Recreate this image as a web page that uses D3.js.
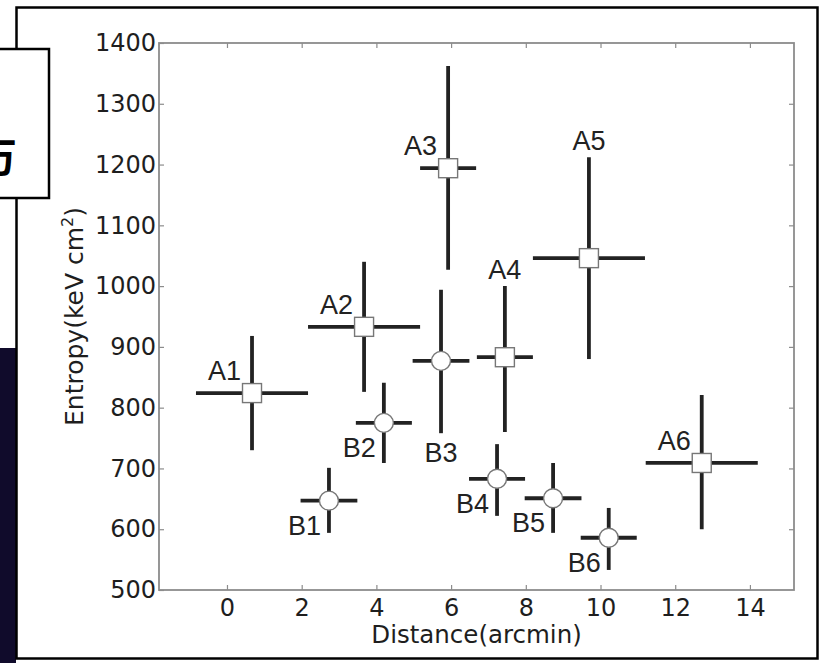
<!DOCTYPE html>
<html>
<head>
<meta charset="utf-8">
<script src="https://cdn.jsdelivr.net/npm/d3@7"></script>
<style>
  body { margin: 0; background: #fff; }
  svg { display: block; }
</style>
</head>
<body>
<div id="chart"></div>
<script>
// values
var names  = ["A1", "A2", "A3", "A4", "A5", "A6", "B1", "B2", "B3", "B4", "B5", "B6"];
var dist   = [0.67, 3.67, 5.92, 7.44, 9.69, 12.71, 2.73, 4.2, 5.73, 7.23, 8.73, 10.22];
var distErr = [1.5, 1.5, 0.75, 0.75, 1.5, 1.5, 0.76, 0.75, 0.76, 0.75, 0.76, 0.75];
var entropy   = [824, 933, 1194, 883, 1046, 709, 647, 775, 877, 683, 651, 586];
var entropyLo = [730, 826, 1027, 760, 880, 600, 594, 709, 758, 622, 594, 533];
var entropyHi = [918, 1040, 1362, 1000, 1212, 821, 701, 841, 994, 740, 709, 635];
var xTicks = [0, 2, 4, 6, 8, 10, 12, 14];
var yTicks = [500, 600, 700, 800, 900, 1000, 1100, 1200, 1300, 1400];

// where each label sits relative to its point
var labelPlace = ["nw", "nw", "nw", "top", "top", "nw", "sw", "sw", "bottom", "sw", "sw", "sw"];

var W = 820, H = 663;
var plot = { left: 159, top: 43, right: 794, bottom: 590 };

var svg = d3.select("#chart").append("svg")
    .attr("width", W)
    .attr("height", H);

// page furniture around the figure
svg.append("rect")
    .attr("x", 0).attr("y", 348)
    .attr("width", 16).attr("height", H - 348)
    .style("fill", "#100b2b");

svg.append("rect")
    .attr("x", 16.5).attr("y", 7.5)
    .attr("width", 801).attr("height", 651)
    .style("fill", "#fff")
    .style("stroke", "#000")
    .style("stroke-width", 2.5);

svg.append("rect")
    .attr("x", -5).attr("y", 49)
    .attr("width", 54).attr("height", 149)
    .style("fill", "#fff")
    .style("stroke", "#000")
    .style("stroke-width", 2.5);

svg.append("text")
    .attr("x", 17).attr("y", 172)
    .style("text-anchor", "end")
    .style("font-family", "'Noto Sans CJK SC'")
    .style("font-weight", "bold")
    .style("font-size", "40px")
    .style("fill", "#000")
    .text("万");

var x = d3.scaleLinear().domain([-1.82, 15.18]).range([plot.left, plot.right]);
var y = d3.scaleLinear().domain([500, 1400]).range([plot.bottom, plot.top]);

var tickFont = "'DejaVu Sans'";

function styleAxis(g) {
    g.select(".domain").remove();
    g.selectAll(".tick line").style("stroke", "#8c8c8c").style("stroke-width", 1.2);
    g.selectAll(".tick text")
        .style("font-family", tickFont)
        .style("font-size", "24px")
        .style("fill", "#1e1e1e");
}

svg.append("g")
    .attr("transform", "translate(0," + plot.bottom + ")")
    .call(d3.axisBottom(x).tickValues(xTicks).tickFormat(d3.format("d"))
        .tickSizeInner(-5).tickSizeOuter(0).tickPadding(9))
    .call(styleAxis);

svg.append("g")
    .attr("transform", "translate(0," + plot.top + ")")
    .call(d3.axisTop(x).tickValues(xTicks).tickSizeInner(-5).tickSizeOuter(0).tickFormat(""))
    .call(styleAxis);

svg.append("g")
    .attr("transform", "translate(" + plot.left + ",0)")
    .call(d3.axisLeft(y).tickValues(yTicks).tickFormat(d3.format("d"))
        .tickSizeInner(-5).tickSizeOuter(0).tickPadding(3))
    .call(styleAxis);

svg.append("g")
    .attr("transform", "translate(" + plot.right + ",0)")
    .call(d3.axisRight(y).tickValues(yTicks.slice(1, -1)).tickSizeInner(-5).tickSizeOuter(0).tickFormat(""))
    .call(styleAxis);

svg.append("rect")
    .attr("x", plot.left).attr("y", plot.top)
    .attr("width", plot.right - plot.left)
    .attr("height", plot.bottom - plot.top)
    .style("fill", "none")
    .style("stroke", "#8c8c8c")
    .style("stroke-width", 1.8);

// axis titles
svg.append("text")
    .attr("x", (plot.left + plot.right) / 2)
    .attr("y", 643)
    .style("text-anchor", "middle")
    .style("font-family", tickFont)
    .style("font-size", "24.5px")
    .style("fill", "#1e1e1e")
    .text("Distance(arcmin)");

var yTitle = svg.append("text")
    .attr("transform", "translate(83," + ((plot.top + plot.bottom) / 2) + ")rotate(-90)")
    .style("text-anchor", "middle")
    .style("font-family", tickFont)
    .style("font-size", "25px")
    .style("fill", "#1e1e1e");
yTitle.append("tspan").text("Entropy(keV cm");
yTitle.append("tspan").attr("dy", -10).style("font-size", "16px").text("2");
yTitle.append("tspan").attr("dy", 10).text(")");

// error bars and markers
var pts = names.map(function(n, i) {
    return { name: n, x: dist[i], xe: distErr[i], y: entropy[i], lo: entropyLo[i], hi: entropyHi[i],
             kind: n.charAt(0), place: labelPlace[i] };
});

var g = svg.append("g");

pts.forEach(function(d) {
    g.append("line")
        .attr("x1", x(d.x - d.xe)).attr("x2", x(d.x + d.xe))
        .attr("y1", y(d.y)).attr("y2", y(d.y))
        .style("stroke", "#222").style("stroke-width", 3.8);
    g.append("line")
        .attr("x1", x(d.x)).attr("x2", x(d.x))
        .attr("y1", y(d.lo)).attr("y2", y(d.hi))
        .style("stroke", "#222").style("stroke-width", 3.8);
});

pts.forEach(function(d) {
    if (d.kind === "A") {
        g.append("rect")
            .attr("x", x(d.x) - 9.5).attr("y", y(d.y) - 9.5)
            .attr("width", 19).attr("height", 19)
            .style("fill", "#fff").style("stroke", "#777").style("stroke-width", 1.4);
    } else {
        g.append("circle")
            .attr("cx", x(d.x)).attr("cy", y(d.y)).attr("r", 9.5)
            .style("fill", "#fff").style("stroke", "#777").style("stroke-width", 1.4);
    }
});

g.selectAll(".ptLabel")
    .data(pts)
    .enter()
    .append("text")
    .attr("class", "ptLabel")
    .attr("x", function(d) {
        if (d.place === "top" || d.place === "bottom") return x(d.x);
        if (d.place === "nw") return x(d.x) - 11;
        return x(d.x) - 8;
    })
    .attr("y", function(d) {
        if (d.place === "top") return y(d.hi) - 7;
        if (d.place === "bottom") return y(d.lo) + 29;
        if (d.place === "nw") return y(d.y) - 13;
        return y(d.y) + 34;
    })
    .style("text-anchor", function(d) {
        return (d.place === "top" || d.place === "bottom") ? "middle" : "end";
    })
    .style("font-family", "'Liberation Sans'")
    .style("font-size", "27px")
    .style("fill", "#222")
    .text(function(d) { return d.name; });
</script>
</body>
</html>
